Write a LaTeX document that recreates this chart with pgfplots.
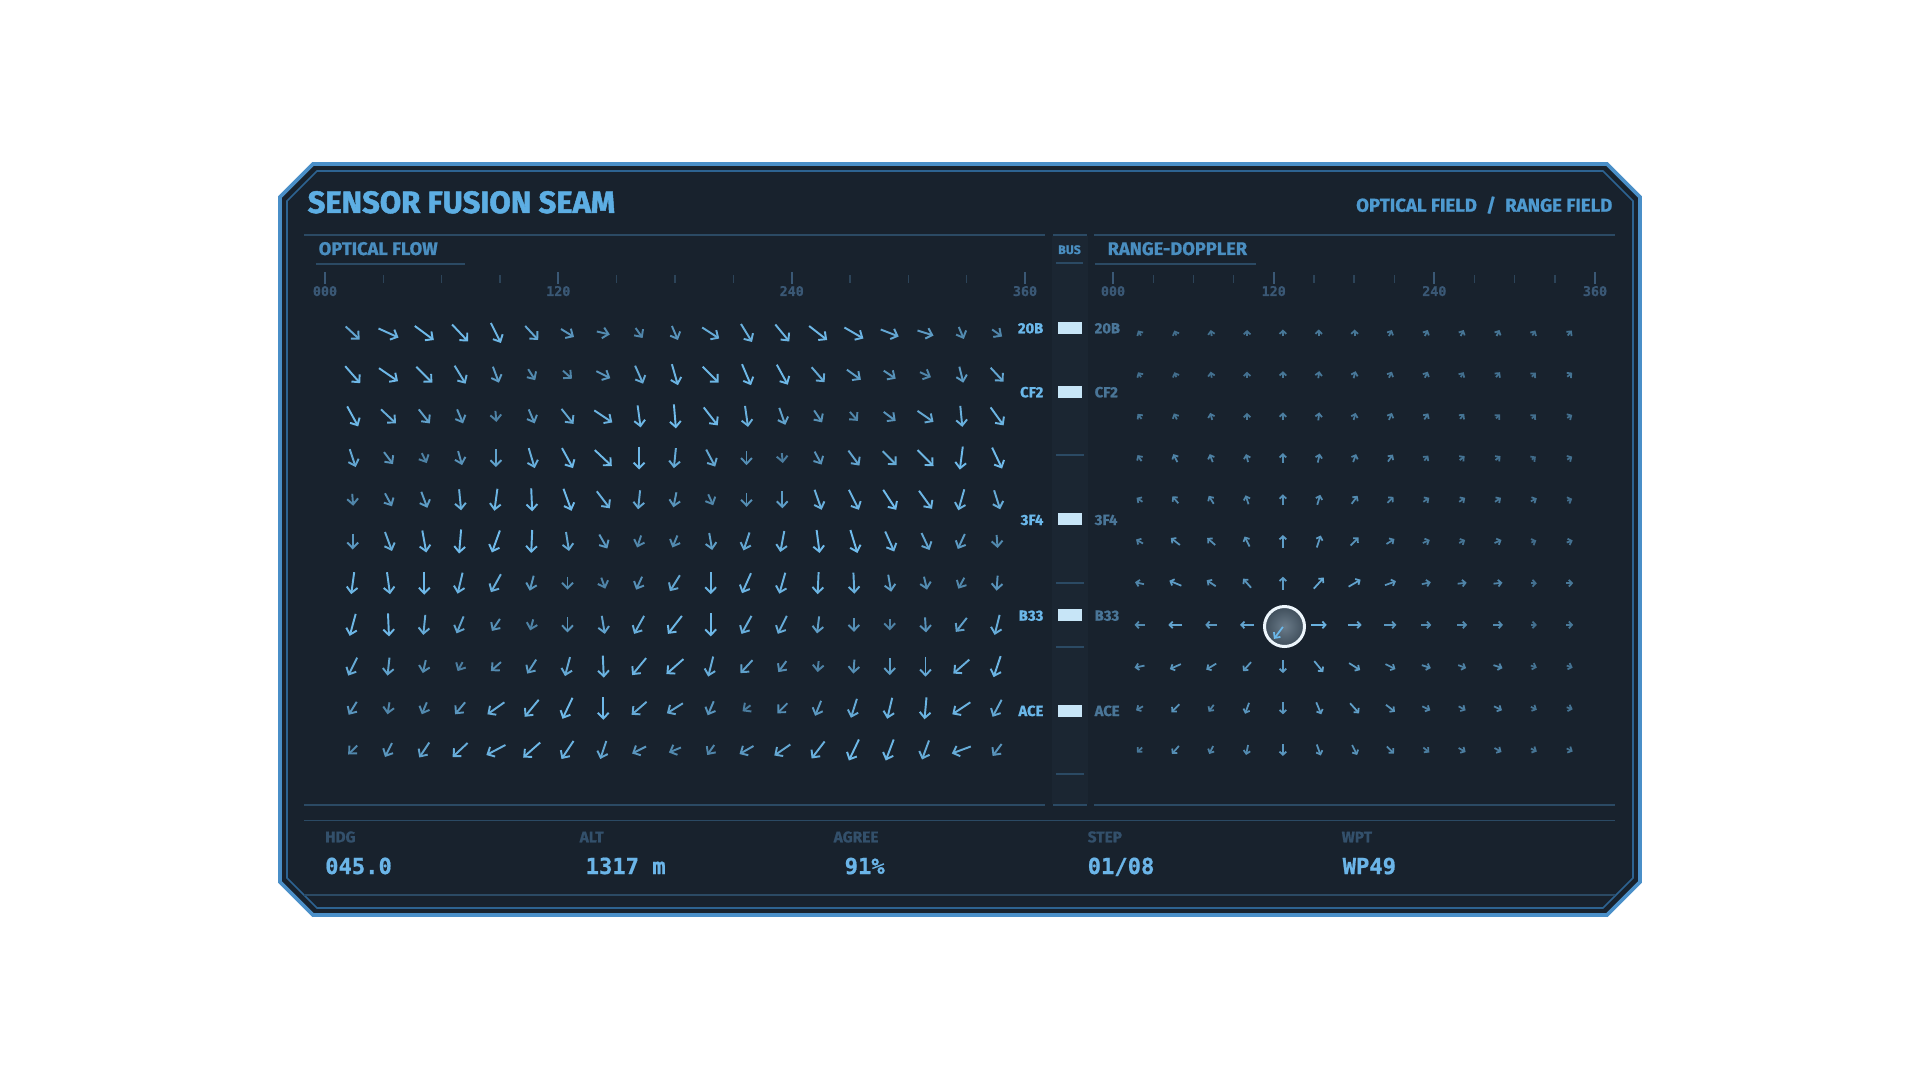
\documentclass[border=0pt]{standalone}
\usepackage{pgfplots}
\pgfplotsset{compat=1.18}
\usepackage{fontspec}
\setmainfont{Fira Sans}
\newfontfamily\heavyf{Fira Sans Bold}[FakeBold=1.6]
\newfontfamily\semif{Fira Sans Bold}[FakeBold=0.9]
\newfontfamily\monof{DejaVu Sans Mono Bold}[FakeBold=0.8]
\usetikzlibrary{arrows.meta}

\definecolor{panel}{HTML}{18222D}
\definecolor{busbg}{HTML}{1B2632}
\definecolor{bord}{HTML}{4A8FC8}
\definecolor{bordin}{HTML}{2D6391}
\definecolor{sep}{HTML}{2B4A64}
\definecolor{titlec}{HTML}{5DAEE3}
\definecolor{headc}{HTML}{4E9AD0}
\definecolor{subc}{HTML}{4A8EC0}
\definecolor{tickc}{HTML}{3A5875}
\definecolor{minorc}{HTML}{2C4459}
\definecolor{busl}{HTML}{6BB8EA}
\definecolor{busr}{HTML}{4A7698}
\definecolor{busrect}{HTML}{C7E5F7}
\definecolor{footl}{HTML}{33506B}
\definecolor{footv}{HTML}{6BB5E8}
\definecolor{circin}{HTML}{6A7B89}
\definecolor{circout}{HTML}{3F4E5B}

\begin{document}
\begin{tikzpicture}
\begin{axis}[
  width=19.2cm, height=10.8cm, scale only axis,
  xmin=0, xmax=1920, ymin=0, ymax=1080, y dir=reverse,
  hide axis, clip=false,
  colormap={flow}{rgb255(0cm)=(30,50,68); rgb255(1cm)=(112,188,236)},
  point meta min=0, point meta max=30,
]
% page
\fill[white] (axis cs:0,0) rectangle (axis cs:1920,1080);
% panel
\filldraw[fill=panel, draw=bord, line width=1.05pt]
 (axis cs:313,164) -- (axis cs:1607,164) -- (axis cs:1640,197) -- (axis cs:1640,882)
 -- (axis cs:1607,915) -- (axis cs:313,915) -- (axis cs:280,882) -- (axis cs:280,197) -- cycle;
\draw[draw=bordin, line width=0.45pt]
 (axis cs:317,171) -- (axis cs:1603,171) -- (axis cs:1633,201) -- (axis cs:1633,878)
 -- (axis cs:1603,908) -- (axis cs:317,908) -- (axis cs:287,878) -- (axis cs:287,201) -- cycle;
% bus band
\fill[busbg] (axis cs:1052,236) rectangle (axis cs:1088,804);
% header
\node[anchor=base west, text=titlec, font=\heavyf\fontsize{8.8}{9}\selectfont, inner sep=0pt] at (axis cs:307,213) {SENSOR FUSION SEAM};
\node[anchor=base east, text=headc, font=\semif\fontsize{5.3}{6}\selectfont, inner sep=0pt] at (axis cs:1613,211.7) {OPTICAL FIELD\enspace/\enspace RANGE FIELD};
% separator lines
\draw[sep, line width=0.55pt] (axis cs:304,235) -- (axis cs:1045,235);
\draw[sep, line width=0.55pt] (axis cs:1053,235) -- (axis cs:1087,235);
\draw[sep, line width=0.55pt] (axis cs:1094,235) -- (axis cs:1615,235);
\draw[sep, line width=0.55pt] (axis cs:304,805) -- (axis cs:1045,805);
\draw[sep, line width=0.55pt] (axis cs:1053,805) -- (axis cs:1087,805);
\draw[sep, line width=0.55pt] (axis cs:1094,805) -- (axis cs:1615,805);
\draw[sep, line width=0.55pt] (axis cs:304,820.5) -- (axis cs:1615,820.5);
\draw[sep, line width=0.55pt] (axis cs:304,895) -- (axis cs:1615,895);
% sub titles
\node[anchor=base west, text=subc, font=\semif\fontsize{5.2}{6}\selectfont, inner sep=0pt] at (axis cs:318,255) {OPTICAL FLOW};
\draw[sep, line width=0.55pt] (axis cs:316,264) -- (axis cs:465,264);
\node[anchor=base, text=subc, font=\semif\fontsize{3.5}{4}\selectfont, inner sep=0pt] at (axis cs:1069.5,254) {BUS};
\draw[sep, line width=0.55pt] (axis cs:1056,263) -- (axis cs:1083,263);
\node[anchor=base west, text=subc, font=\semif\fontsize{5.2}{6}\selectfont, inner sep=0pt] at (axis cs:1107,255) {RANGE-DOPPLER};
\draw[sep, line width=0.55pt] (axis cs:1095,264) -- (axis cs:1256,264);
% ticks
\pgfplotsinvokeforeach{383.3,441.7,500,616.7,675,733.3,850,908.3,966.7}{
  \draw[minorc, line width=0.4pt] (axis cs:#1,275) -- (axis cs:#1,283);}
\pgfplotsinvokeforeach{1153.2,1193.3,1233.5,1313.8,1354,1394.2,1474.5,1514.7,1554.8}{
  \draw[minorc, line width=0.4pt] (axis cs:#1,275) -- (axis cs:#1,283);}
\pgfplotsinvokeforeach{325,558.3,791.7,1025,1113,1273.7,1434.3,1595}{
  \draw[tickc, line width=0.5pt] (axis cs:#1,272) -- (axis cs:#1,284);}
\node[anchor=base, text=tickc, font=\monof\fontsize{3.8}{4}\selectfont, inner sep=0pt] at (axis cs:325,296) {000};
\node[anchor=base, text=tickc, font=\monof\fontsize{3.8}{4}\selectfont, inner sep=0pt] at (axis cs:558.3,296) {120};
\node[anchor=base, text=tickc, font=\monof\fontsize{3.8}{4}\selectfont, inner sep=0pt] at (axis cs:791.7,296) {240};
\node[anchor=base, text=tickc, font=\monof\fontsize{3.8}{4}\selectfont, inner sep=0pt] at (axis cs:1025,296) {360};
\node[anchor=base, text=tickc, font=\monof\fontsize{3.8}{4}\selectfont, inner sep=0pt] at (axis cs:1113,296) {000};
\node[anchor=base, text=tickc, font=\monof\fontsize{3.8}{4}\selectfont, inner sep=0pt] at (axis cs:1273.7,296) {120};
\node[anchor=base, text=tickc, font=\monof\fontsize{3.8}{4}\selectfont, inner sep=0pt] at (axis cs:1434.3,296) {240};
\node[anchor=base, text=tickc, font=\monof\fontsize{3.8}{4}\selectfont, inner sep=0pt] at (axis cs:1595,296) {360};
% bus
\pgfplotsinvokeforeach{455,583,647,774}{
  \draw[sep, line width=0.55pt] (axis cs:1056,#1) -- (axis cs:1084,#1);}
\pgfplotsinvokeforeach{328,392,519,615,711}{
  \fill[busrect] (axis cs:1057.7,#1-6.3) rectangle (axis cs:1081.7,#1+6.3);}
\node[anchor=base east, text=busl, font=\semif\fontsize{4.2}{5}\selectfont, inner sep=0pt] at (axis cs:1044,333.3) {20B};
\node[anchor=base east, text=busl, font=\semif\fontsize{4.2}{5}\selectfont, inner sep=0pt] at (axis cs:1044,397.3) {CF2};
\node[anchor=base east, text=busl, font=\semif\fontsize{4.2}{5}\selectfont, inner sep=0pt] at (axis cs:1044,525) {3F4};
\node[anchor=base east, text=busl, font=\semif\fontsize{4.2}{5}\selectfont, inner sep=0pt] at (axis cs:1044,620.7) {B33};
\node[anchor=base east, text=busl, font=\semif\fontsize{4.2}{5}\selectfont, inner sep=0pt] at (axis cs:1044,716) {ACE};
\node[anchor=base west, text=busr, font=\semif\fontsize{4.2}{5}\selectfont, inner sep=0pt] at (axis cs:1094,333.3) {20B};
\node[anchor=base west, text=busr, font=\semif\fontsize{4.2}{5}\selectfont, inner sep=0pt] at (axis cs:1094,397.3) {CF2};
\node[anchor=base west, text=busr, font=\semif\fontsize{4.2}{5}\selectfont, inner sep=0pt] at (axis cs:1094,525) {3F4};
\node[anchor=base west, text=busr, font=\semif\fontsize{4.2}{5}\selectfont, inner sep=0pt] at (axis cs:1094,620.7) {B33};
\node[anchor=base west, text=busr, font=\semif\fontsize{4.2}{5}\selectfont, inner sep=0pt] at (axis cs:1094,716) {ACE};
% footer
\node[anchor=base west, text=footl, font=\semif\fontsize{4.4}{5}\selectfont, inner sep=0pt] at (axis cs:324.5,842.3) {HDG};
\node[anchor=base west, text=footl, font=\semif\fontsize{4.4}{5}\selectfont, inner sep=0pt] at (axis cs:579,842.3) {ALT};
\node[anchor=base west, text=footl, font=\semif\fontsize{4.4}{5}\selectfont, inner sep=0pt] at (axis cs:833,842.3) {AGREE};
\node[anchor=base west, text=footl, font=\semif\fontsize{4.4}{5}\selectfont, inner sep=0pt] at (axis cs:1087,842.3) {STEP};
\node[anchor=base west, text=footl, font=\semif\fontsize{4.4}{5}\selectfont, inner sep=0pt] at (axis cs:1341,842.3) {WPT};
\node[anchor=base west, text=footv, font=\monof\fontsize{6.3}{7}\selectfont, inner sep=0pt] at (axis cs:324.5,874) {045.0};
\node[anchor=base west, text=footv, font=\monof\fontsize{6.3}{7}\selectfont, inner sep=0pt] at (axis cs:585,874) {1317 m};
\node[anchor=base west, text=footv, font=\monof\fontsize{6.3}{7}\selectfont, inner sep=0pt] at (axis cs:844,874) {91\%};
\node[anchor=base west, text=footv, font=\monof\fontsize{6.3}{7}\selectfont, inner sep=0pt] at (axis cs:1087,874) {01/08};
\node[anchor=base west, text=footv, font=\monof\fontsize{6.3}{7}\selectfont, inner sep=0pt] at (axis cs:1342,874) {WP49};

% ---- optical flow field
\addplot[-{Straight Barb[length=1.6pt,width=3.1pt]}, line width=0.55pt,
  point meta={sqrt((\thisrow{u})^2+(\thisrow{v})^2)+6},
  quiver={u=\thisrow{u}, v=\thisrow{v}, colored}]
 table[x expr={352.7+35.8*\thisrow{i}-0.5*\thisrow{u}}, y expr={333+41.7*\thisrow{j}-0.5*\thisrow{v}}] {
i j u v
0 0 14 13
1 0 20 9
2 0 19 14
3 0 16 17
4 0 10 20
5 0 13 14
6 0 13 8
7 0 13 3
8 0 7 10
9 0 6 14
10 0 17 11
11 0 11 18
12 0 14 17
13 0 18 14
14 0 19 11
15 0 18 7
16 0 16 5
17 0 5 12
18 0 10 7
0 1 15 17
1 1 19 13
2 1 16 16
3 1 11 18
4 1 6 16
5 1 7 11
6 1 9 8
7 1 14 7
8 1 8 18
9 1 6 21
10 1 16 16
11 1 9 21
12 1 11 20
13 1 13 15
14 1 14 10
15 1 12 8
16 1 11 5
17 1 4 16
18 1 13 14
0 2 11 20
1 2 15 14
2 2 11 14
3 2 6 14
4 2 1 11
5 2 6 14
6 2 12 15
7 2 18 12
8 2 3 22
9 2 2 24
10 2 14 18
11 2 3 21
12 2 6 17
13 2 8 12
14 2 8 9
15 2 12 9
16 2 16 11
17 2 2 21
18 2 13 18
0 3 6 18
1 3 9 12
2 3 5 10
3 3 4 14
4 3 0 18
5 3 6 20
6 3 11 20
7 3 17 16
8 3 0 23
9 3 -2 20
10 3 9 17
11 3 0 14
12 3 1 10
13 3 7 13
14 3 11 15
15 3 14 14
16 3 16 16
17 3 -3 23
18 3 10 21
0 4 1 12
1 4 7 13
2 4 6 16
3 4 2 21
4 4 -3 22
5 4 1 23
6 4 8 22
7 4 13 17
8 4 -2 19
9 4 -3 15
10 4 5 11
11 4 0 14
12 4 0 17
13 4 7 20
14 4 10 20
15 4 13 20
16 4 13 18
17 4 -6 21
18 4 6 19
0 5 0 16
1 5 7 19
2 5 4 22
3 5 -2 24
4 5 -8 22
5 5 -1 23
6 5 3 19
7 5 8 14
8 5 -4 12
9 5 -5 12
10 5 3 17
11 5 -6 18
12 5 -4 21
13 5 3 23
14 5 7 23
15 5 9 20
16 5 8 17
17 5 -7 15
18 5 1 13
0 6 -3 22
1 6 3 22
2 6 0 23
3 6 -5 21
4 6 -10 18
5 6 -4 15
6 6 0 13
7 6 4 11
8 6 -6 13
9 6 -10 16
10 6 0 22
11 6 -9 20
12 6 -6 21
13 6 -1 22
14 6 1 21
15 6 3 17
16 6 3 13
17 6 -6 11
18 6 -1 15
0 7 -6 22
1 7 1 23
2 7 -2 20
3 7 -7 17
4 7 -8 12
5 7 -3 11
6 7 0 15
7 7 3 18
8 7 -10 18
9 7 -14 18
10 7 0 23
11 7 -10 18
12 7 -9 18
13 7 -2 17
14 7 0 14
15 7 0 11
16 7 1 15
17 7 -11 14
18 7 -5 20
0 8 -9 18
1 8 -2 18
2 8 -3 13
3 8 -5 9
4 8 -10 9
5 8 -9 14
6 8 -5 19
7 8 1 22
8 8 -14 17
9 8 -17 15
10 8 -5 20
11 8 -12 13
12 8 -8 11
13 8 -1 11
14 8 -1 14
15 8 0 17
16 8 0 20
17 8 -16 14
18 8 -7 21
0 9 -8 13
1 9 -2 12
2 9 -5 12
3 9 -10 12
4 9 -17 12
5 9 -14 17
6 9 -10 21
7 9 0 23
8 9 -15 13
9 9 -16 10
10 9 -6 14
11 9 -8 6
12 9 -10 10
13 9 -6 15
14 9 -6 19
15 9 -5 21
16 9 -2 22
17 9 -18 12
18 9 -9 17
0 10 -9 9
1 10 -7 14
2 10 -10 15
3 10 -15 14
4 10 -19 10
5 10 -17 15
6 10 -12 18
7 10 -6 18
8 10 -14 7
9 10 -12 5
10 10 -7 10
11 10 -14 8
12 10 -16 11
13 10 -13 17
14 10 -10 21
15 10 -8 21
16 10 -7 19
17 10 -19 7
18 10 -9 12
};

% ---- range-doppler field
\addplot[-{Straight Barb[length=0.9pt,width=1.9pt]}, line width=0.5pt,
  point meta={1.4*sqrt((\thisrow{u})^2+(\thisrow{v})^2)+5},
  quiver={u=\thisrow{u}, v=\thisrow{v}, colored}]
 table[x expr={1139.5+35.85*\thisrow{i}-0.5*\thisrow{u}}, y expr={333+41.7*\thisrow{j}-0.5*\thisrow{v}}] {
i j u v
0 0 -3 -5
1 0 -2 -5
2 0 -1 -6
3 0 0 -6
4 0 0 -7
5 0 0 -7
6 0 0 -7
7 0 3 -6
8 0 3 -6
9 0 3 -6
10 0 3 -6
11 0 3 -5
12 0 4 -5
0 1 -3 -5
1 1 -2 -5
2 1 -1 -6
3 1 0 -6
4 1 0 -7
5 1 1 -7
6 1 2 -7
7 1 3 -6
8 1 3 -6
9 1 3 -5
10 1 4 -5
11 1 4 -4
12 1 5 -4
0 2 -4 -5
1 2 -3 -6
2 2 -2 -7
3 2 0 -7
4 2 0 -8
5 2 1 -8
6 2 2 -7
7 2 3 -7
8 2 4 -6
9 2 4 -5
10 2 4 -4
11 2 4 -4
12 2 5 -3
0 3 -4 -6
1 3 -4 -8
2 3 -3 -8
3 3 -2 -8
4 3 0 -10
5 3 2 -9
6 3 3 -8
7 3 5 -7
8 3 4 -5
9 3 5 -4
10 3 5 -4
11 3 4 -3
12 3 5 -3
0 4 -6 -4
1 4 -6 -7
2 4 -5 -8
3 4 -3 -9
4 4 0 -11
5 4 3 -10
6 4 6 -8
7 4 6 -6
8 4 6 -4
9 4 6 -4
10 4 6 -4
11 4 6 -3
12 4 5 -2
0 5 -7 -4
1 5 -9 -7
2 5 -8 -7
3 5 -5 -10
4 5 0 -13
5 5 4 -12
6 5 8 -8
7 5 8 -5
8 5 7 -3
9 5 6 -3
10 5 7 -3
11 5 5 -2
12 5 6 -2
0 6 -9 -2
1 6 -12 -5
2 6 -9 -6
3 6 -8 -9
4 6 0 -13
5 6 10 -11
6 6 12 -7
7 6 11 -4
8 6 9 -2
9 6 9 -1
10 6 9 -1
11 6 6 0
12 6 7 0
0 7 -10 0
1 7 -14 0
2 7 -12 0
3 7 -14 0
5 7 16 0
6 7 14 0
7 7 12 0
8 7 10 0
9 7 10 0
10 7 10 0
11 7 6 0
12 7 7 0
0 8 -10 2
1 8 -11 5
2 8 -10 6
3 8 -8 9
4 8 0 13
5 8 9 11
6 8 11 7
7 8 10 5
8 8 9 3
9 8 8 3
10 8 9 3
11 8 6 2
12 8 6 2
0 9 -7 4
1 9 -8 8
2 9 -5 7
3 9 -4 11
4 9 0 12
5 9 5 12
6 9 9 10
7 9 9 7
8 9 8 4
9 9 7 4
10 9 8 4
11 9 6 3
12 9 6 2
0 10 -5 5
1 10 -7 8
2 10 -4 8
3 10 -2 10
4 10 0 12
5 10 4 11
6 10 5 10
7 10 7 7
8 10 6 5
9 10 7 4
10 10 7 4
11 10 6 3
12 10 6 3
};

% centre marker
\draw[draw=white!88!busl, line width=0.85pt, inner color=circin, outer color=circout] (axis cs:1284.5,626.5) circle[radius=2mm];
\addplot[-{Straight Barb[length=1.2pt,width=2.3pt]}, line width=0.5pt, draw=busl,
  quiver={u=\thisrow{u}, v=\thisrow{v}}]
 table[x expr={1139.5+35.85*\thisrow{i}}, y expr={333+41.7*\thisrow{j}+2}] {
i j u v
4 7 -9 12
};
\end{axis}
\end{tikzpicture}
\end{document}
